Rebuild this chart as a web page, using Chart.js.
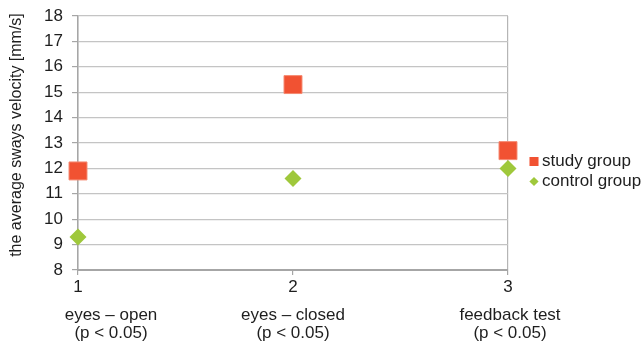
<!DOCTYPE html>
<html>
<head>
<meta charset="utf-8">
<script src="https://cdn.jsdelivr.net/npm/chart.js@4/dist/chart.umd.min.js"></script>
<style>
    html, body { margin: 0; padding: 0; background: #fff; }
    #wrap { width: 641px; height: 342px; }
</style>
</head>
<body>
<div id="wrap"><canvas id="swayChart"></canvas></div>
<script>
// Tests and mean sway velocity per group
const testNumbers = [1, 2, 3];
const testNames = ['eyes \u2013 open', 'eyes \u2013 closed', 'feedback test'];
const testNotes = ['(p < 0.05)', '(p < 0.05)', '(p < 0.05)'];
const studyGroup = [11.9, 15.3, 12.7];
const controlGroup = [9.3, 11.6, 12.0];
const yTicks = [8, 9, 10, 11, 12, 13, 14, 15, 16, 17, 18];
const yTitle = 'the average sways velocity [mm/s]';

const FONT = 'Liberation Sans, Arial, sans-serif';
const TEXT = '#1e1e1e';
const RED = '#f15232';
const GREEN = '#9fc83b';

// Category captions under the numeric x ticks, plus the rotated y title
const captionPlugin = {
    id: 'captions',
    afterDraw(chart) {
        const ctx = chart.ctx;
        const x = chart.scales.x;
        const shift = [33, 0, 2];
        ctx.save();
        ctx.font = '17px ' + FONT;
        ctx.fillStyle = TEXT;
        ctx.textAlign = 'center';
        ctx.textBaseline = 'middle';
        testNumbers.forEach((n, i) => {
            const px = x.getPixelForValue(n) + shift[i];
            ctx.fillText(testNames[i], px, 315);
            ctx.fillText(testNotes[i], px, 333);
        });
        ctx.translate(17, 135);
        ctx.rotate(-Math.PI / 2);
        ctx.font = '16px ' + FONT;
        ctx.fillText(yTitle, 0, 0);
        ctx.restore();
    }
};

// Simple legend on the right side
const sideLegend = {
    id: 'sideLegend',
    afterDraw(chart) {
        const ctx = chart.ctx;
        const left = chart.chartArea.right + 26;
        const top = 161.5;
        ctx.save();
        ctx.font = '17px ' + FONT;
        ctx.textBaseline = 'middle';
        chart.data.datasets.forEach((ds, i) => {
            const y = top + i * 20;
            ctx.fillStyle = ds.backgroundColor;
            Chart.helpers.drawPoint(ctx, {
                pointStyle: ds.pointStyle,
                radius: ds.legendRadius,
                borderWidth: 0
            }, left, y);
            ctx.fillStyle = TEXT;
            ctx.fillText(ds.label, left + 8, y);
        });
        ctx.restore();
    }
};

const ctx = document.getElementById('swayChart').getContext('2d');
const swayChart = new Chart(ctx, {
    type: 'scatter',
    data: {
        datasets: [{
            label: 'study group',
            data: testNumbers.map((n, i) => ({ x: n, y: studyGroup[i] })),
            pointStyle: 'rect',
            pointRadius: 12.7,
            pointHoverRadius: 12.7,
            backgroundColor: RED,
            borderColor: '#f58a72',
            borderWidth: 1,
            legendRadius: 6.4
        }, {
            label: 'control group',
            data: testNumbers.map((n, i) => ({ x: n, y: controlGroup[i] })),
            pointStyle: 'rectRot',
            pointRadius: 8.5,
            pointHoverRadius: 8.5,
            backgroundColor: GREEN,
            borderColor: GREEN,
            borderWidth: 0,
            legendRadius: 4.6
        }]
    },
    options: {
        responsive: true,
        maintainAspectRatio: false,
        animation: false,
        clip: false,
        layout: {
            padding: { top: 16, right: 133, left: 0, bottom: 0 }
        },
        plugins: {
            legend: { display: false },
            tooltip: { enabled: false }
        },
        scales: {
            x: {
                type: 'linear',
                min: 1,
                max: 3,
                afterBuildTicks: (s) => { s.ticks = testNumbers.map(v => ({ value: v })); },
                afterFit: (s) => { s.height = 72; s.paddingLeft = 0; s.paddingRight = 0; },
                border: { color: '#a6a6a6', width: 2 },
                grid: {
                    color: (c) => c.tick && c.tick.value === 2 ? 'rgba(0,0,0,0)' : '#b5b5b5',
                    tickColor: '#a6a6a6',
                    tickLength: 5,
                    lineWidth: 1.2
                },
                ticks: {
                    color: TEXT,
                    font: { family: FONT, size: 17 },
                    padding: 2,
                    maxRotation: 0,
                    callback: (v) => String(v)
                }
            },
            y: {
                min: 8,
                max: 18,
                afterBuildTicks: (s) => { s.ticks = yTicks.map(v => ({ value: v })); },
                afterFit: (s) => { s.width = 78; s.paddingTop = 0; s.paddingBottom = 0; },
                border: { color: '#a6a6a6', width: 1.5 },
                grid: {
                    color: '#c4c4c4',
                    tickColor: '#a6a6a6',
                    tickLength: 6,
                    lineWidth: 1.2
                },
                ticks: {
                    color: TEXT,
                    font: { family: FONT, size: 17 },
                    padding: 9
                }
            }
        }
    },
    plugins: [captionPlugin, sideLegend]
});
</script>
</body>
</html>
